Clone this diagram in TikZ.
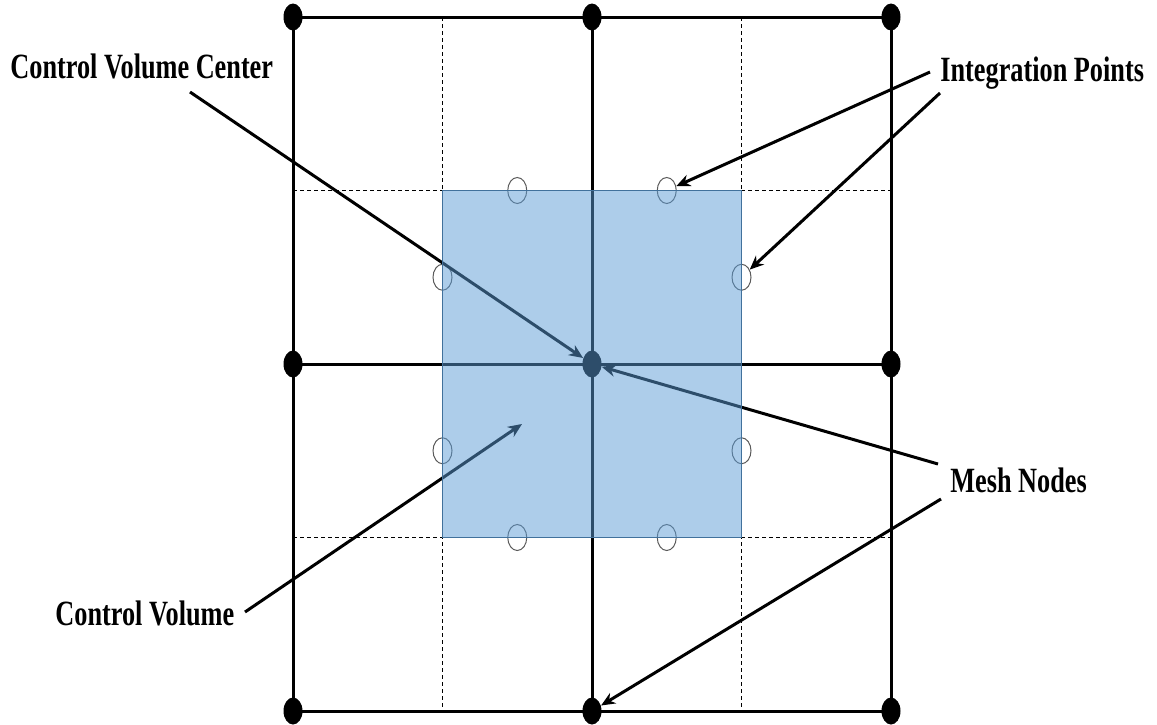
\documentclass[tikz,border=0pt]{standalone}
\usepackage{fontspec}
\newfontfamily\lblfont{Liberation Serif}[FakeStretch=0.74]
\usetikzlibrary{shapes.geometric,arrows.meta}
\definecolor{cvblue}{RGB}{91,155,213}
\definecolor{cvedge}{RGB}{65,113,156}
\definecolor{ipgray}{RGB}{90,90,90}
\begin{document}
\begin{tikzpicture}[x=0.5pt,y=-0.5pt,
  grid/.style={line width=1.5pt},
  half/.style={line width=0.5pt, dash pattern=on 2pt off 1.5pt},
  mesh/.style={ellipse, fill=black, inner sep=0pt, minimum width=9.5pt, minimum height=13.5pt},
  ipt/.style={ellipse, draw=ipgray, line width=0.5pt, inner sep=0pt, minimum width=9.5pt, minimum height=13pt},
  lbl/.style={anchor=base west, inner sep=0pt, font=\lblfont\bfseries\fontsize{17.75}{20}\selectfont},
  pointer/.style={line width=1.5pt, -{Stealth[length=7pt,width=6pt]}}
]
\useasboundingbox (0,0) rectangle (1157,724);
% half-lines (dashed)
\coordinate (dv1t) at (442.5,17);  \coordinate (dv1b) at (442.5,711);
\coordinate (dv2t) at (741.5,17);  \coordinate (dv2b) at (741.5,711);
\coordinate (dh1l) at (293,190.5); \coordinate (dh1r) at (891,190.5);
\coordinate (dh2l) at (293,537.5); \coordinate (dh2r) at (891,537.5);
\draw[half] (dv1t) -- (dv1b);
\draw[half] (dv2t) -- (dv2b);
\draw[half] (dh1l) -- (dh1r);
\draw[half] (dh2l) -- (dh2r);
% mesh nodes
\node[mesh] (n11) at (293,17) {};
\node[mesh] (n12) at (592,17) {};
\node[mesh] (n13) at (891,17) {};
\node[mesh] (n21) at (293,364) {};
\node[mesh] (nc)  at (592,364) {};
\node[mesh] (n23) at (891,364) {};
\node[mesh] (n31) at (293,711) {};
\node[mesh] (n32) at (592,711) {};
\node[mesh] (n33) at (891,711) {};
% grid lines
\draw[grid] (n11.center) -- (n13.center);
\draw[grid] (n21.center) -- (n23.center);
\draw[grid] (n31.center) -- (n33.center);
\draw[grid] (n11.center) -- (n31.center);
\draw[grid] (n12.center) -- (n32.center);
\draw[grid] (n13.center) -- (n33.center);
% integration points
\node[ipt] (ip1) at (517.25,190.5) {};
\node[ipt] (ip2) at (666.75,190.5) {};
\node[ipt] (ip3) at (442.5,277.25) {};
\node[ipt] (ip4) at (741.5,277.25) {};
\node[ipt] (ip5) at (442.5,450.75) {};
\node[ipt] (ip6) at (741.5,450.75) {};
\node[ipt] (ip7) at (517.25,537.5) {};
\node[ipt] (ip8) at (666.75,537.5) {};
% labels
\node[lbl] (lcvc) at (10,78) {Control Volume Center};
\node[lbl] (lip)  at (940,81) {Integration Points};
\node[lbl] (lmn)  at (950,492) {Mesh Nodes};
\node[lbl] (lcv)  at (55,625) {Control Volume};
% pointers
\coordinate (s1) at (190,92);
\coordinate (s2) at (930,72);
\coordinate (s3) at (940,93);
\coordinate (s4) at (938,464);
\coordinate (s5) at (941,499);
\coordinate (s6) at (245,612);
\coordinate (cvpt) at (522,424);
\draw[pointer] (s1) -- (nc);
\draw[pointer] (s2) -- (ip2);
\draw[pointer] (s3) -- (ip4);
\draw[pointer] (s4) -- (nc);
\draw[pointer] (s5) -- (n32);
\draw[pointer] (s6) -- (cvpt);
% control volume (translucent)
\coordinate (cv1) at (442.5,190.5);
\coordinate (cv2) at (741.5,537.5);
\fill[cvblue, fill opacity=0.5] (cv1) rectangle (cv2);
\draw[cvedge, line width=0.5pt] (cv1) rectangle (cv2);
\end{tikzpicture}
\end{document}
